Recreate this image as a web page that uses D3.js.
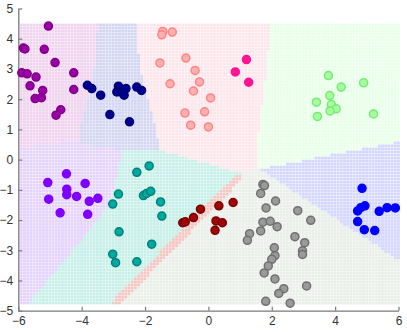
<!DOCTYPE html>
<html>
<head>
<meta charset="utf-8">
<script src="https://cdn.jsdelivr.net/npm/d3@7"></script>
<style>
  html, body { margin: 0; padding: 0; background: #fff; }
  svg { display: block; font-family: "Liberation Sans", Arial, sans-serif; }
</style>
</head>
<body>
<div id="chart"></div>
<script>
// ---- data: points per class ----
const magentaPts = [[-5.05,4.42],[-5.84,3.69],[-5.79,3.66],[-5.18,3.65],[-4.84,3.21],[-5.89,2.87],[-5.72,2.84],[-5.44,2.73],[-4.25,2.87],[-5.63,2.44],[-5.23,2.29],[-4.25,2.32],[-5.47,2.02],[-5.27,2.05],[-4.66,1.65],[-4.81,1.47]];
const navyPts = [[-3.82,2.46],[-3.68,2.35],[-3.40,2.13],[-3.11,1.49],[-2.84,2.43],[-2.89,2.24],[-2.77,2.24],[-2.60,2.35],[-2.66,2.13],[-2.26,2.40],[-2.11,2.29],[-2.49,1.25]];
const salmonPts = [[-1.44,4.24],[-1.47,4.13],[-1.14,4.22],[-1.53,3.20],[-1.21,2.51],[-0.71,3.36],[-0.42,2.95],[-0.28,2.57],[-0.47,2.27],[-0.74,1.54],[-0.56,1.14],[-0.12,1.58],[0.07,2.04],[0.0,1.08]];
const pinkPts = [[1.20,3.31],[0.85,2.90],[1.27,2.56]];
const greenPts = [[3.79,2.78],[4.19,2.40],[4.90,2.54],[3.83,2.12],[3.41,1.90],[3.88,1.82],[4.03,1.68],[3.84,1.61],[3.44,1.43],[5.21,1.51]];
const bluePts = [[4.85,-0.95],[4.71,-1.70],[4.81,-1.59],[4.94,-1.53],[4.71,-2.05],[4.92,-2.32],[5.25,-2.35],[5.39,-1.71],[5.64,-1.59],[5.90,-1.60]];
const violetPts = [[-4.48,-0.47],[-5.07,-0.76],[-3.89,-0.79],[-4.47,-0.98],[-4.47,-1.16],[-4.16,-1.22],[-5.04,-1.31],[-3.76,-1.38],[-3.49,-1.28],[-4.68,-1.76],[-3.81,-1.81]];
const tealPts = [[-1.87,-0.21],[-2.26,-0.42],[-2.84,-1.14],[-3.02,-1.47],[-2.05,-1.19],[-1.95,-1.12],[-1.82,-1.05],[-1.51,-1.40],[-1.47,-1.87],[-2.82,-2.39],[-1.79,-2.80],[-3.02,-3.13],[-2.93,-3.41],[-2.26,-3.38]];
const redPts = [[-0.81,-2.09],[-0.73,-2.06],[-0.47,-1.92],[-0.25,-1.64],[0.33,-1.53],[0.78,-1.42],[0.24,-2.03],[0.44,-2.09],[0.21,-2.34]];
const grayPts = [[1.72,-0.82],[1.77,-0.86],[1.65,-1.12],[2.12,-1.37],[1.82,-1.60],[2.82,-1.69],[3.23,-2.01],[1.72,-2.07],[1.95,-2.04],[2.17,-2.22],[1.65,-2.36],[1.30,-2.45],[1.23,-2.67],[2.73,-2.55],[3.04,-2.75],[2.08,-2.92],[2.10,-3.18],[2.00,-3.30],[2.97,-3.02],[2.97,-3.14],[1.89,-3.52],[1.76,-3.75],[2.10,-3.95],[2.38,-4.27],[2.22,-4.43],[3.10,-4.18],[1.81,-4.69],[2.58,-4.75]];

// ---- data: decision regions as polygons (data units), checked in this order ----
const stripeRegion = [[-3.32,-5.0],[-2.96,-5.0],[1.12,-0.6],[0.95,-0.42]];
const magentaRegion = [[-6.5,4.6],[-3.47,4.6],[-3.6,3.0],[-3.75,2.2],[-4.05,0.95],[-4.05,0.62],[-6.5,0.34]];
const navyRegion = [[-3.47,4.6],[-2.26,4.6],[-2.18,3.07],[-1.8,1.63],[-1.52,0.31],[-2.7,0.31],[-4.05,0.5],[-4.05,0.95],[-3.75,2.2],[-3.6,3.0]];
const salmonRegion = [[-2.26,4.6],[1.98,4.6],[1.88,3.29],[1.57,0.64],[1.5,-0.3],[1.0,-0.45],[-1.52,0.31],[-1.8,1.63],[-2.18,3.07]];
const greenRegion = [[1.98,4.6],[6.5,4.6],[6.5,0.68],[1.62,-0.31],[1.5,-0.3],[1.57,0.64],[1.88,3.29]];
const blueRegion = [[1.62,-0.31],[6.5,0.68],[6.5,-3.67]];
const violetRegion = [[-6.5,0.34],[-4.05,0.62],[-4.05,0.5],[-2.7,0.31],[-3.0,-1.0],[-3.2,-1.6],[-3.75,-2.35],[-5.88,-5.0],[-6.5,-5.0]];
const tealRegion = [[-2.7,0.31],[-1.52,0.31],[1.0,-0.45],[1.05,-0.45],[-3.13,-5.0],[-5.88,-5.0],[-3.75,-2.35],[-3.2,-1.6],[-3.0,-1.0]];

const xTicks = [-6, -4, -2, 0, 2, 4, 6];
const yTicks = [-5, -4, -3, -2, -1, 0, 1, 2, 3, 4, 5];

// ---- styles ----
const series = [
  { pts: magentaPts, fill: "#9a00a6", stroke: "#7e0088" },
  { pts: navyPts,    fill: "#00008f", stroke: "#000078" },
  { pts: salmonPts,  fill: "#ffb0b0", stroke: "#ff8484" },
  { pts: pinkPts,    fill: "#ff1493", stroke: "#ff1493" },
  { pts: greenPts,   fill: "#a8ffa0", stroke: "#74ec74" },
  { pts: bluePts,    fill: "#0000ff", stroke: "#0000ff" },
  { pts: violetPts,  fill: "#8000ff", stroke: "#8000ff" },
  { pts: tealPts,    fill: "#00aaa0", stroke: "#00807a" },
  { pts: redPts,     fill: "#a00808", stroke: "#7a0000" },
  { pts: grayPts,    fill: "#9a9a9a", stroke: "#707070" }
];
const regions = [
  { poly: stripeRegion,  color: "#f4c6c2" },
  { poly: magentaRegion, color: "#efd3ef" },
  { poly: navyRegion,    color: "#d3d6f2" },
  { poly: salmonRegion,  color: "#fce6eb" },
  { poly: greenRegion,   color: "#e8ffe8" },
  { poly: blueRegion,    color: "#d3d6ff" },
  { poly: violetRegion,  color: "#e4d2fc" },
  { poly: tealRegion,    color: "#c6efe7" }
];
const defaultRegionColor = "#eaeee9";

const W = 407, H = 332;
const x = d3.scaleLinear().domain([-6, 6]).range([18.3, 398.5]);
const y = d3.scaleLinear().domain([-5, 5]).range([310.7, 8.5]);

const svg = d3.select("#chart").append("svg")
  .attr("width", W).attr("height", H);

// background decision map, drawn as a grid of small cells
const step = 0.1;
const cells = [];
for (let i = 0; i < 120; i++) {
  for (let j = 0; j < 93; j++) {
    const cx = -5.9 + i * step;
    const cy = -4.75 + j * step;
    const r = regions.find(r => d3.polygonContains(r.poly, [cx, cy]));
    cells.push({ cx, cy, color: r ? r.color : defaultRegionColor });
  }
}
const cw = x(step) - x(0);
const ch = y(0) - y(step);

svg.append("g")
  .selectAll("rect")
  .data(cells)
  .join("rect")
    .attr("x", d => x(d.cx - step / 2))
    .attr("y", d => y(d.cy + step / 2))
    .attr("width", cw - 0.3)
    .attr("height", ch - 0.3)
    .attr("fill", d => d.color);

// axes
const xAxis = d3.axisBottom(x).tickValues(xTicks)
  .tickSizeInner(-4).tickSizeOuter(0).tickPadding(6);
const yAxis = d3.axisLeft(y).tickValues(yTicks)
  .tickSizeInner(-4).tickSizeOuter(0).tickPadding(5);

const gx = svg.append("g")
  .attr("transform", `translate(0,${y(-5)})`)
  .call(xAxis);
const gy = svg.append("g")
  .attr("transform", `translate(${x(-6)},0)`)
  .call(yAxis);

[gx, gy].forEach(g => {
  g.select(".domain").attr("stroke", "#7a7a7a").attr("stroke-width", 1.3);
  g.selectAll(".tick line").attr("stroke", "#7a7a7a").attr("stroke-width", 1.2);
  g.selectAll(".tick text")
    .attr("fill", "#333")
    .style("font-size", "12px")
    .style("font-family", "'Liberation Sans', Arial, sans-serif");
});

// points
series.forEach(s => {
  svg.append("g")
    .selectAll("circle")
    .data(s.pts)
    .join("circle")
      .attr("cx", d => x(d[0]))
      .attr("cy", d => y(d[1]))
      .attr("r", 4)
      .attr("fill", s.fill)
      .attr("stroke", s.stroke)
      .attr("stroke-width", 1.5);
});
</script>
</body>
</html>
